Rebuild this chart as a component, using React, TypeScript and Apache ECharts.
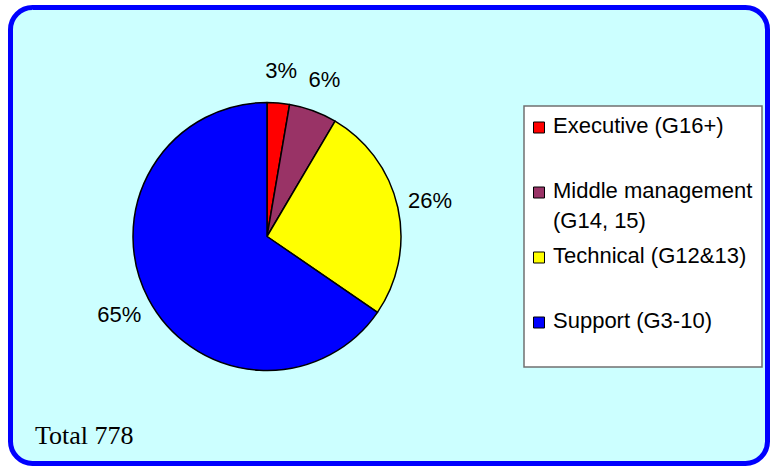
import React, { useEffect, useRef } from 'react';
import * as echarts from 'echarts';

// Data
const categories = ['Executive (G16+)', 'Middle management (G14, 15)', 'Technical (G12&13)', 'Support (G3-10)'];
const headcounts = [21, 45, 203, 509];
const totalLabel = 'Total 778';

// Styles / layout
const sliceColors = ['#FF0000', '#993366', '#FFFF00', '#0000FF'];
const legendRowY = [125, 190, 255, 320];

const wrapLegend = (name: string) => (name.length > 20 ? name.replace(/ \(/, '\n(') : name);

export default function App() {
  const ref = useRef<HTMLDivElement>(null);
  useEffect(() => {
    const chart = echarts.init(ref.current!, null, { renderer: 'svg' });
    const data = categories.map((name, i) => ({
      name,
      value: headcounts[i],
      itemStyle: { color: sliceColors[i] },
    }));
    const labelData = categories.map((name, i) => ({ name, value: headcounts[i] }));

    const legendItems: any[] = [];
    categories.forEach((name, i) => {
      legendItems.push({
        type: 'rect',
        shape: { x: 533.5, y: legendRowY[i] - 3, width: 11, height: 11 },
        style: { fill: sliceColors[i], stroke: '#000', lineWidth: 1 },
        z: 10,
      });
      legendItems.push({
        type: 'text',
        x: 553,
        y: legendRowY[i] - 15,
        style: {
          text: wrapLegend(name),
          font: '22px "Liberation Sans", Arial, sans-serif',
          fill: '#000',
          verticalAlign: 'top',
          lineHeight: 30,
        },
        z: 10,
      });
    });

    chart.setOption({
      animation: false,
      backgroundColor: '#ffffff',
      graphic: [
        {
          type: 'rect',
          shape: { x: 10.5, y: 7.5, width: 757, height: 456, r: 22 },
          style: { fill: '#CCFFFF', stroke: '#0000FF', lineWidth: 5 },
          z: -10,
        },
        {
          type: 'rect',
          shape: { x: 524, y: 106, width: 238, height: 261 },
          style: { fill: '#FFFFFF', stroke: '#707070', lineWidth: 1.5 },
          z: 5,
        },
        ...legendItems,
        {
          type: 'text',
          x: 35,
          y: 435,
          style: {
            text: totalLabel,
            font: '26px "Liberation Serif", "Times New Roman", serif',
            fill: '#000',
            verticalAlign: 'middle',
          },
          z: 10,
        },
      ],
      series: [
        {
          type: 'pie',
          center: [267, 236.5],
          radius: 134,
          startAngle: 90,
          clockwise: true,
          data,
          label: { show: false },
          labelLine: { show: false },
          itemStyle: { borderColor: '#000', borderWidth: 1.5 },
          emphasis: { disabled: true },
          silent: true,
          avoidLabelOverlap: false,
        },
        {
          type: 'pie',
          center: [267, 236.5],
          radius: [152, 176],
          startAngle: 90,
          clockwise: true,
          percentPrecision: 0,
          data: labelData,
          itemStyle: { color: 'transparent', borderWidth: 0 },
          label: {
            show: true,
            position: 'inside',
            formatter: '{d}%',
            fontSize: 22,
            fontFamily: '"Liberation Sans", Arial, sans-serif',
            color: '#000',
          },
          labelLine: { show: false },
          emphasis: { disabled: true },
          silent: true,
          avoidLabelOverlap: false,
        },
      ],
    });
    return () => chart.dispose();
  }, []);
  return <div ref={ref} style={{ position: 'fixed', left: 0, top: 0, width: 771, height: 466 }} />;
}
